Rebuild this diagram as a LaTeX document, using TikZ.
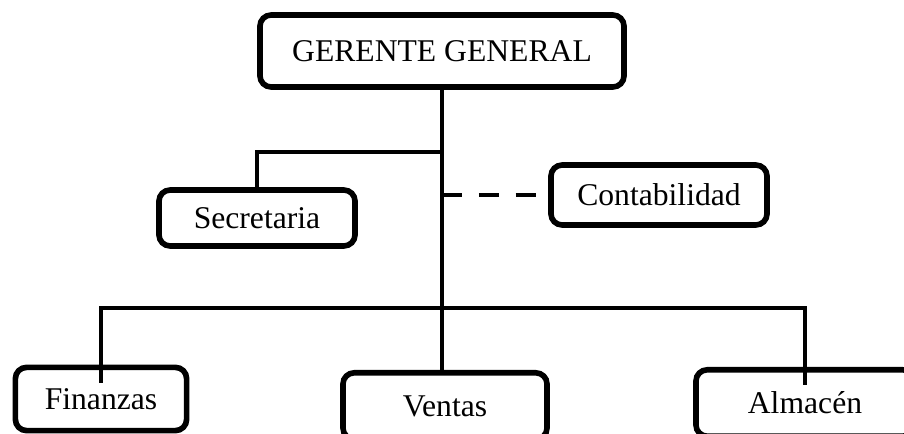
\documentclass[tikz,border=0pt]{standalone}
\usepackage{fontspec}
\setmainfont{Liberation Serif}
\begin{document}
\begin{tikzpicture}[x=0.025cm, y=-0.025cm, font=\fontsize{22.5}{26}\selectfont,
  cargo/.style={draw, line width=4pt, rounded corners=0.28cm, inner sep=0pt},
  linea/.style={line width=3.5pt}]
  \clip (0,0) rectangle (904,434); % page frame

  % Boxes of the chart
  \node[cargo, minimum width=9.1cm, minimum height=1.8cm] (ger) at (442,51) {GERENTE GENERAL};
  \node[cargo, minimum width=4.9cm, minimum height=1.4cm] (sec) at (257,218) {Secretaria};
  \node[cargo, minimum width=5.4cm, minimum height=1.5cm] (cont) at (659,195) {Contabilidad};
  \node[cargo, minimum width=4.28cm, minimum height=1.58cm] (fin) at (101,399) {Finanzas};
  \node[cargo, minimum width=5.1cm, minimum height=1.66cm] (ven) at (445,406) {Ventas};
  \node[cargo, minimum width=5.45cm, minimum height=1.66cm] (alm) at (805,403) {Almac\'en};

  % Joints on the main line
  \coordinate (jsec) at (441,152);
  \coordinate (jbar) at (441,308);

  % Connectors
  \draw[linea] (ger.south) -- (ger.south |- ven.north); % main line
  \draw[linea] (jsec) -| (sec.north); % staff branch
  \draw[linea, dash pattern=on 0.5cm off 0.42cm] (ger.south |- cont.west) -- (cont.west); % advisory
  \foreach \n in {fin,alm} {
    \draw[linea, shorten >=-0.45cm] (jbar) -| (\n.north); % lower branches
  }
\end{tikzpicture}
\end{document}
